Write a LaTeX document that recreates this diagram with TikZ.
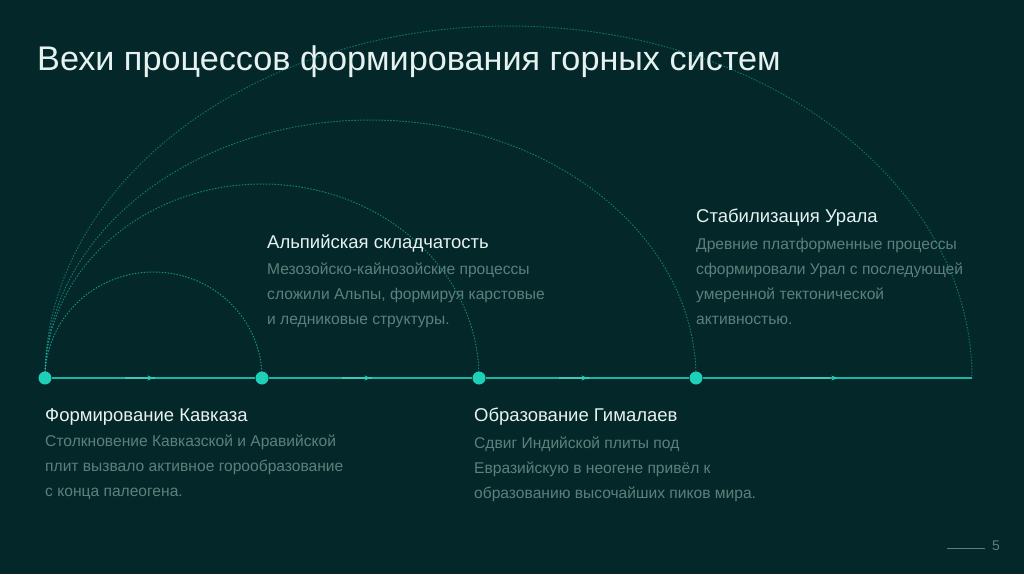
\documentclass[tikz,border=0pt]{standalone}
\usepackage{fontspec}
\setmainfont{Liberation Sans}
\usetikzlibrary{positioning,arrows.meta,decorations.markings}
\definecolor{bgdark}{HTML}{04272A}
\definecolor{tealdot}{HTML}{1FD0B8}
\definecolor{tealline}{HTML}{19B7A2}
\definecolor{headtxt}{HTML}{E6F2F0}
\definecolor{desctxt}{HTML}{5E7F7B}

\begin{document}
\begin{tikzpicture}[x=1pt, y=-1pt,
    every node/.style={inner sep=0pt},
    milestone/.style={draw=none, circle, fill=tealdot, minimum size=13pt},
    axisline/.style={tealline, line width=1.8pt,
        postaction={decorate},
        decoration={markings,
          mark=at position 0.36 with {\draw[tealdot!70!white, line width=1.8pt, opacity=0.5] (0,0) -- (30pt,0);},
          mark=at position 0.5 with {\arrow[tealdot]{Stealth[length=6pt,width=5pt]}}}},
    arcline/.style={tealdot, line width=1pt, dash pattern=on 0.9pt off 2.1pt, line cap=round},
    head/.style={anchor=base west, text=headtxt, font=\fontsize{18.5}{22}\selectfont},
    desc/.style={anchor=north west, text=desctxt, align=left, font=\fontsize{15.6}{25}\selectfont}]
  \useasboundingbox[fill=bgdark] (0,0) rectangle (1024,574);
  % title
  \node[anchor=base west, text=headtxt, font=\fontsize{34.2}{40}\selectfont] (title) at (37,70) {Вехи процессов формирования горных систем};
  % milestones
  \node[milestone] (n0) at (45,378) {};
  \node[milestone] (n1) at (262,378) {};
  \node[milestone] (n2) at (479,378) {};
  \node[milestone] (n3) at (696,378) {};
  \coordinate (nend) at (972,378);
  % arcs
  \draw[arcline, opacity=0.65] (n0.center) arc[start angle=180, end angle=360, x radius=108.5, y radius=106];
  \draw[arcline, opacity=0.55] (n0.center) arc[start angle=180, end angle=360, x radius=217, y radius=194];
  \draw[arcline, opacity=0.5] (n0.center) arc[start angle=180, end angle=360, x radius=325.5, y radius=258];
  \draw[arcline, opacity=0.45] (n0.center) arc[start angle=180, end angle=360, x radius=463.5, y radius=352];
  % axis
  \draw[axisline] (n0) -- (n1);
  \draw[axisline] (n1) -- (n2);
  \draw[axisline] (n2) -- (n3);
  \draw[axisline] (n3) -- (nend);
  % texts
  \node[head] (t0) at (45,421) {Формирование Кавказа};
  \node[desc] (d0) at (45,435) {Столкновение Кавказской и Аравийской\\плит вызвало активное горообразование\\с конца палеогена.};
  \node[head] (t1) at (267,248) {Альпийская складчатость};
  \node[desc] (d1) at (267,263) {Мезозойско-кайнозойские процессы\\сложили Альпы, формируя карстовые\\и ледниковые структуры.};
  \node[head] (t2) at (474,421) {Образование Гималаев};
  \node[desc] (d2) at (474,437) {Сдвиг Индийской плиты под\\Евразийскую в неогене привёл к\\образованию высочайших пиков мира.};
  \node[head] (t3) at (696,222) {Стабилизация Урала};
  \node[desc] (d3) at (696,238) {Древние платформенные процессы\\сформировали Урал с последующей\\умеренной тектонической\\активностью.};
  % page number
  \node[anchor=base west, text=desctxt, font=\fontsize{14}{16}\selectfont] (pg) at (992,550) {5};
  \coordinate (pgline) at (947,548);
  \draw[desctxt, line width=0.8pt] (pgline) -- ++(38,0);
\end{tikzpicture}
\end{document}
